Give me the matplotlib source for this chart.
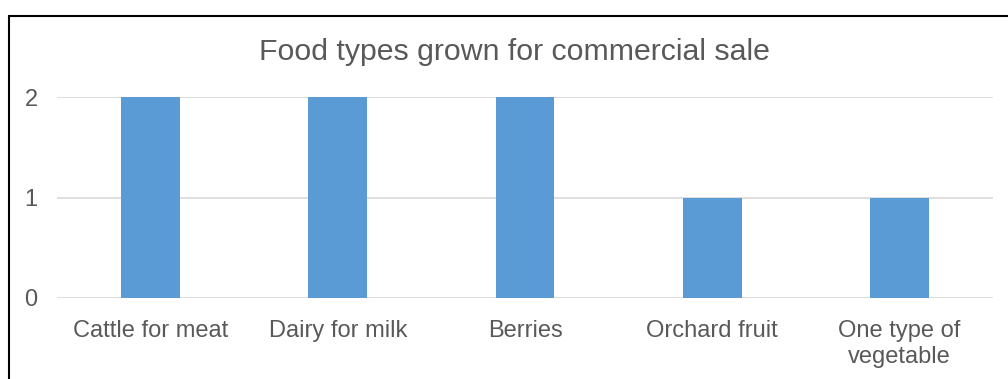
import matplotlib.pyplot as plt
from matplotlib.patches import Rectangle

categories = ["Cattle for meat", "Dairy for milk", "Berries", "Orchard fruit", "One type of\nvegetable"]
counts = [2, 2, 2, 1, 1]
yticks = [0, 1, 2]

plt.rcParams['font.family'] = ['Liberation Sans', 'DejaVu Sans']

fig = plt.figure(figsize=(10.08, 3.79), dpi=100)
ax = fig.add_axes([57 / 1008, 1 - 298 / 379, (993 - 57) / 1008, (298 - 97) / 379])

x = range(len(categories))
ax.bar(x, counts, width=0.315, color='#5B9BD5', zorder=3)
ax.set_xlim(-0.5, len(categories) - 0.5)
ax.set_ylim(0, 2)
ax.set_yticks(yticks)
ax.set_xticks(list(x))
ax.set_xticklabels(categories, fontsize=17, color='#595959', linespacing=1.2,
                   family='Liberation Sans')
ax.set_yticklabels([str(v) for v in yticks], fontsize=17, color='#595959',
                   family='Liberation Sans')
ax.tick_params(length=0)
ax.tick_params(axis='x', pad=16)
ax.tick_params(axis='y', pad=14)
ax.grid(axis='y', color='#D9D9D9', linewidth=1.2, zorder=0)
for s in ax.spines.values():
    s.set_visible(False)

fig.text(514 / 1008, 1 - 52 / 379, "Food types grown for commercial sale",
         ha='center', va='center', fontsize=21.8, color='#595959',
         family='Liberation Sans')

# chart frame (extends past the image bottom/right)
fig.patches.append(Rectangle((9 / 1008, -0.1), 1.2, 1 - 16 / 379 + 0.1,
                             transform=fig.transFigure, fill=False,
                             edgecolor='black', linewidth=1.5))

fig.savefig("out.png", dpi=100)
